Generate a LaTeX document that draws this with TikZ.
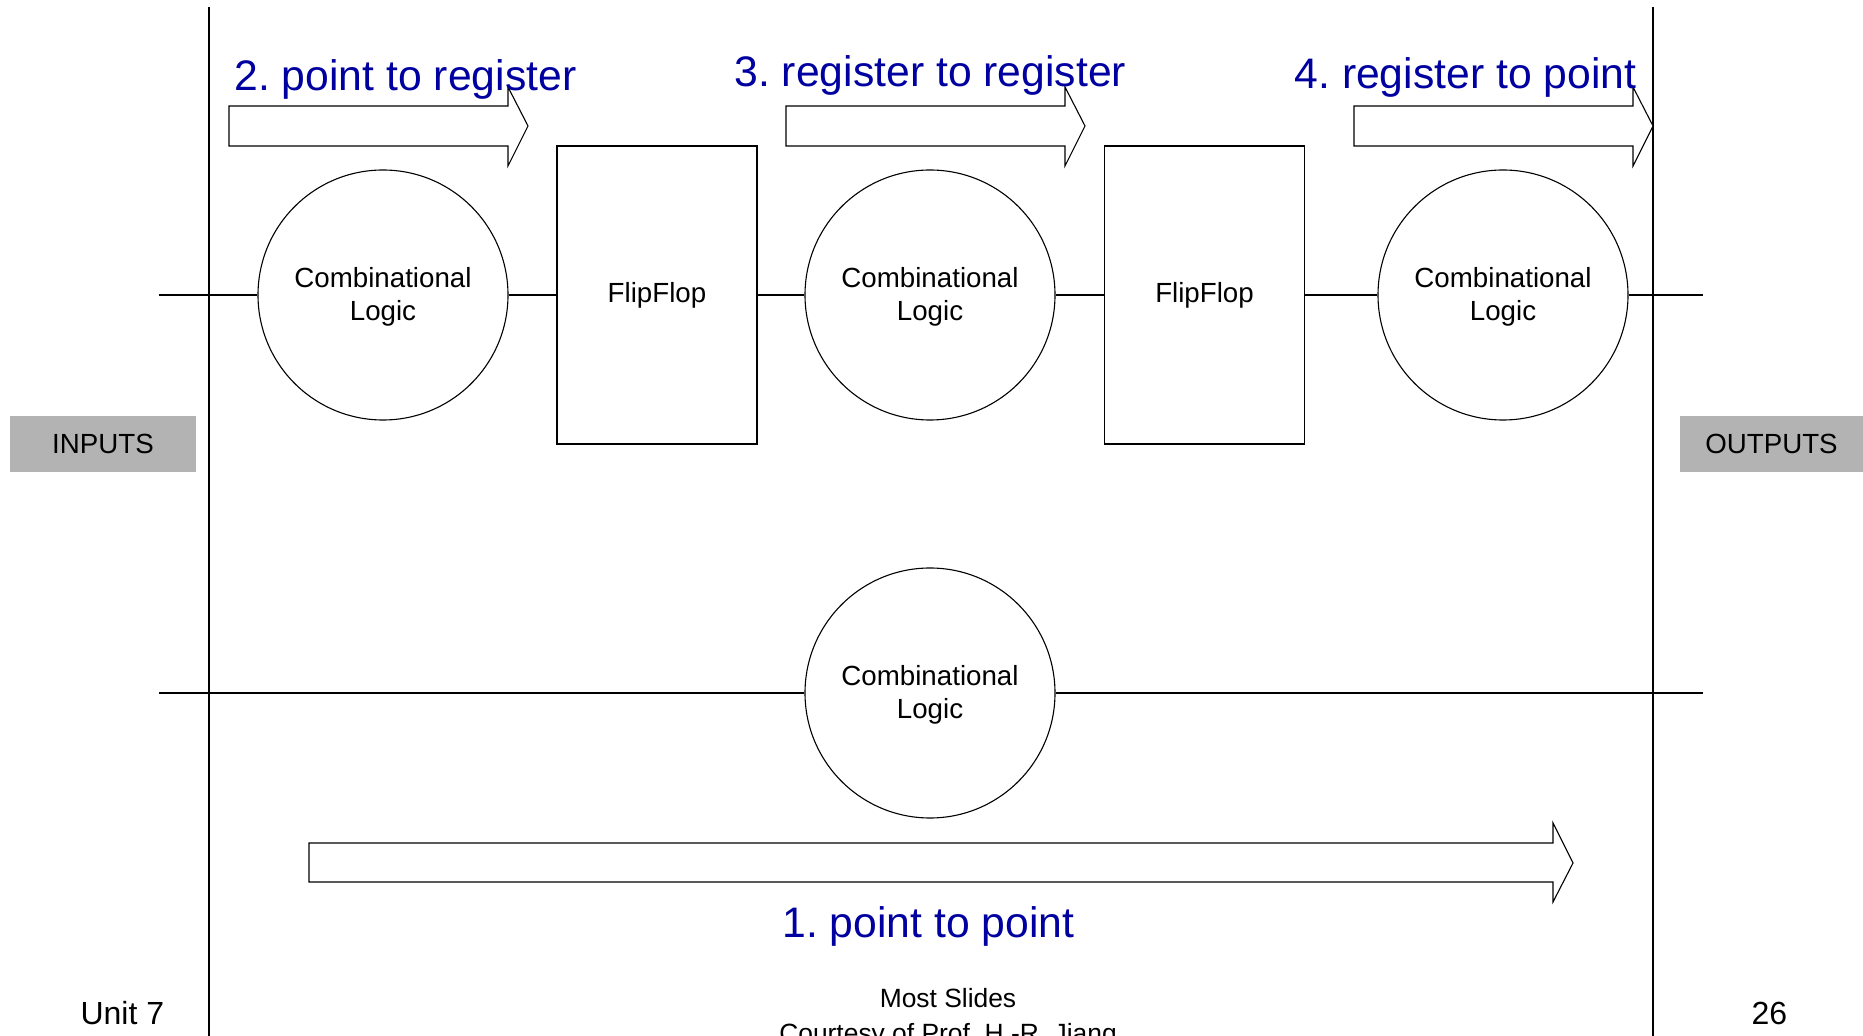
\documentclass[tikz,border=0pt]{standalone}
\usepackage{fontspec}
\setmainfont{Liberation Sans}
\frenchspacing
\definecolor{lblblue}{RGB}{0,0,160}
\definecolor{boxgray}{RGB}{179,179,179}
\newcommand{\comblogic}{\raisebox{-1.3pt}[\height][\depth]{\begin{tabular}{@{}c@{}}Combinational\\Logic\end{tabular}}}
\begin{document}
\begin{tikzpicture}[x=0.5pt,y=-0.5pt,line width=0.55pt,
  logic/.style={circle,draw,minimum size=125pt,inner sep=0pt,font=\fontsize{13.85}{16.5}\selectfont},
  ffbox/.style={rectangle,draw,minimum width=100pt,minimum height=149pt,inner sep=0pt,font=\fontsize{13.85}{16.5}\selectfont},
  iobox/.style={rectangle,fill=boxgray,minimum height=28pt,inner sep=0pt,font=\fontsize{13.85}{16.5}\selectfont},
  steplabel/.style={anchor=base west,inner sep=0pt,text=lblblue,font=\fontsize{21.35}{25}\selectfont},
  bigarrow/.style={draw,fill=white,line join=miter},
  foot/.style={inner sep=0pt,font=\fontsize{16}{19}\selectfont}]
\useasboundingbox (0,0) rectangle (1863,1036);
\clip (0,0) rectangle (1863,1036);
% frame lines
\coordinate (vl1) at (209,7); \coordinate (vl2) at (209,1040);
\coordinate (vr1) at (1653,7); \coordinate (vr2) at (1653,1040);
\draw (vl1) -- (vl2);
\draw (vr1) -- (vr2);
% nodes
\node[logic] (c1) at (383,295) {\comblogic};
\node[ffbox] (f1) at (657,295) {FlipFlop};
\node[logic] (c2) at (930,295) {\comblogic};
\node[ffbox] (f2) at (1204.5,295) {FlipFlop};
\node[logic] (c3) at (1503,295) {\comblogic};
\node[logic] (c4) at (930,693) {\comblogic};
\node[iobox,minimum width=93pt] (in) at (103,444) {INPUTS};
\node[iobox,minimum width=91.5pt] (out) at (1771.5,444) {OUTPUTS};
% wires
\coordinate (ta) at (159,295); \coordinate (tb) at (1703,295);
\coordinate (ba) at (159,693); \coordinate (bb) at (1703,693);
\draw (ta) -- (c1.west);
\draw (c1.east) -- (f1.west);
\draw (f1.east) -- (c2.west);
\draw (c2.east) -- (f2.west);
\draw (f2.east) -- (c3.west);
\draw (c3.east) -- (tb);
\draw (ba) -- (c4.west);
\draw (c4.east) -- (bb);
% block arrows
\draw[bigarrow] (229,106) -- (508,106) -- (508,87) -- (528,126) -- (508,166) -- (508,146) -- (229,146) -- cycle;
\draw[bigarrow] (786,106) -- (1065,106) -- (1065,87) -- (1085,126) -- (1065,166) -- (1065,146) -- (786,146) -- cycle;
\draw[bigarrow] (1354,106) -- (1633,106) -- (1633,87) -- (1653,126) -- (1633,166) -- (1633,146) -- (1354,146) -- cycle;
\draw[bigarrow] (309,843) -- (1553,843) -- (1553,823) -- (1573,863) -- (1553,902) -- (1553,882) -- (309,882) -- cycle;
% labels
\node[steplabel] (l2) at (234,91) {2. point to register};
\node[steplabel] (l3) at (734,87) {3. register to register};
\node[steplabel] (l4) at (1294,89) {4. register to point};
\node[steplabel] (l1) at (782,937) {1. point to point};
% footer
\node[foot,anchor=base west] (unit) at (80,1024) {Unit 7};
\node[foot,anchor=base west] (page) at (1751,1024) {26};
\node[inner sep=0pt,anchor=base,font=\fontsize{13.2}{16}\selectfont] (most) at (948,1007) {Most Slides};
\node[inner sep=0pt,anchor=base,font=\fontsize{13.2}{16}\selectfont] (court) at (948,1042) {Courtesy of Prof. H.-R. Jiang};
\end{tikzpicture}
\end{document}
